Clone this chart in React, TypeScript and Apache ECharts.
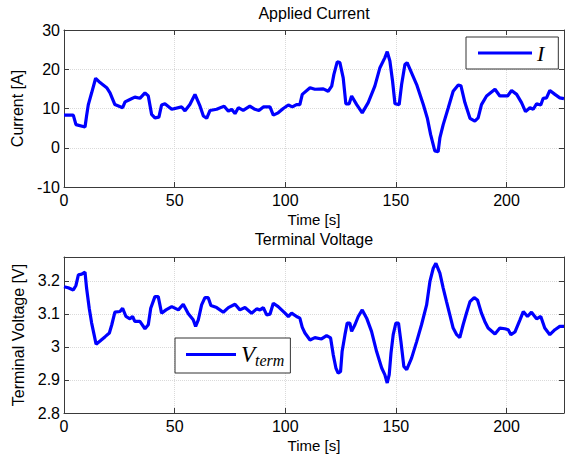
import React, { useEffect, useRef } from 'react';
import * as echarts from 'echarts';

// Applied current (time [s], current [A])
const timeI = [0, 4.2, 5.4, 9.5, 10.2, 11, 12.5, 14.3, 16.3, 19.3, 20.8, 23, 26.5, 27.6, 29.8, 32, 34.3, 36.6, 38.1, 39.6, 41.1, 42.9, 44.1, 45.6, 48.7, 53.2, 54.7, 56.9, 59.2, 61.5, 63, 64.5, 66, 69, 72.4, 74.3, 75.8, 77.3, 78.8, 81, 84, 86.3, 88.1, 90.1, 93.1, 94.6, 96.8, 99.1, 101.4, 103.2, 105.1, 106.6, 107.7, 111.2, 113.4, 117.2, 119.4, 121, 122, 123.5, 124.7, 126.2, 127.4, 128.9, 130, 132.3, 134.8, 137.5, 140.5, 142.8, 145, 146.1, 147.3, 148.5, 149.6, 151.5, 152.6, 154.1, 155.1, 157.1, 159.4, 162.4, 164.2, 165.7, 167.6, 169.1, 169.9, 171.4, 173.7, 175.9, 178.2, 179.4, 181.2, 183.5, 185.7, 187.2, 188.7, 191, 194.8, 197, 199.3, 200.5, 202.3, 204.6, 206.8, 208.6, 210.6, 212.1, 213.6, 215.5, 216.6, 218.1, 219.6, 221.9, 224.1, 226];
const currentA = [8.3, 8.3, 5.9, 5.3, 8.1, 11, 14, 17.7, 16.6, 15.3, 14, 11, 10.2, 11.7, 12.3, 12.9, 12.6, 14, 13.2, 8.5, 7.6, 7.8, 10.9, 11.2, 9.8, 10.4, 9.4, 11, 13.6, 10.6, 8.1, 7.5, 9.5, 9.8, 10.6, 9.3, 9.8, 8.7, 10.2, 9.5, 10.6, 9.8, 9.5, 10.4, 10.4, 8.3, 8.9, 10, 10.9, 10.4, 11, 11, 13.6, 15.3, 14.9, 15, 14.4, 15.7, 18.7, 21.9, 21.7, 17.8, 11.2, 11.2, 13.2, 11, 8.9, 11.5, 15.7, 20.4, 22.9, 24.5, 22.1, 17, 11.2, 11, 16.1, 21.2, 21.7, 19.1, 16.1, 11, 7.6, 3.4, -0.8, -1, 2.5, 5.9, 10.2, 14.4, 16, 15.8, 11.5, 7.5, 6.8, 7.6, 11, 13.2, 14.9, 13.2, 13.2, 13.2, 14.6, 13.6, 11.5, 9.2, 10.2, 9.8, 11.2, 10.9, 12.6, 12.7, 14.6, 13.6, 12.7, 12.5];

// Terminal voltage (time [s], voltage [V])
const timeV = [0, 1.9, 4.2, 5.4, 6.5, 8, 9.5, 10.2, 11.4, 12.5, 13.6, 14.5, 16.3, 18.6, 20.5, 21.6, 23, 25.3, 26.5, 28, 29.8, 31, 32, 34.3, 36.6, 38.1, 39.2, 41.1, 42.6, 44.1, 46.1, 48.7, 51.7, 53.9, 56.2, 58.4, 59.5, 60.7, 62.2, 63.7, 65.2, 66.4, 69, 72, 74.3, 77.3, 79.5, 81.8, 84.8, 87.1, 88.6, 90.1, 91.6, 93.1, 94.6, 96.8, 99.9, 101.4, 102.9, 105.1, 106.6, 107.7, 108.9, 111.2, 113.4, 116.4, 118.7, 120.5, 121.7, 122.9, 123.9, 125, 125.7, 127, 128, 129.2, 130, 131.5, 133, 134.8, 136.8, 139, 141.3, 143.6, 145, 146.1, 147, 147.8, 148.8, 150, 151.2, 152.3, 153.6, 154.9, 157.1, 159.4, 161.6, 163.9, 165.4, 166.9, 168.1, 169.9, 171.4, 172.9, 174.4, 175.9, 177.5, 178.9, 180.4, 181.9, 183.5, 185.4, 186.9, 188.7, 190.2, 191.7, 194.8, 197, 199.3, 200.8, 202, 203.8, 206.1, 207.6, 209.5, 211.3, 213.6, 215.5, 217.3, 219.6, 221.9, 224.1, 226];
const voltageV = [3.182, 3.179, 3.172, 3.186, 3.218, 3.22, 3.226, 3.178, 3.117, 3.072, 3.037, 3.008, 3.018, 3.031, 3.042, 3.067, 3.105, 3.107, 3.117, 3.092, 3.085, 3.092, 3.077, 3.077, 3.055, 3.067, 3.117, 3.152, 3.152, 3.102, 3.112, 3.122, 3.112, 3.129, 3.1, 3.082, 3.062, 3.082, 3.127, 3.149, 3.149, 3.125, 3.119, 3.105, 3.119, 3.129, 3.112, 3.119, 3.102, 3.115, 3.112, 3.119, 3.097, 3.099, 3.132, 3.122, 3.102, 3.092, 3.102, 3.092, 3.087, 3.059, 3.042, 3.021, 3.028, 3.024, 3.034, 3.027, 2.976, 2.936, 2.921, 2.925, 2.986, 3.037, 3.072, 3.072, 3.047, 3.067, 3.092, 3.112, 3.087, 3.047, 2.986, 2.936, 2.916, 2.891, 2.916, 2.981, 3.037, 3.072, 3.072, 3.016, 2.941, 2.931, 2.966, 3.016, 3.067, 3.127, 3.198, 3.238, 3.253, 3.223, 3.178, 3.137, 3.097, 3.057, 3.037, 3.028, 3.067, 3.102, 3.137, 3.149, 3.142, 3.102, 3.077, 3.057, 3.039, 3.057, 3.055, 3.052, 3.037, 3.045, 3.082, 3.107, 3.092, 3.105, 3.085, 3.092, 3.057, 3.037, 3.052, 3.062, 3.062];

// Axis ranges / ticks
const timeRange = [0, 226];
const timeStep = 50;
const currentRange = [-10, 30];
const currentStep = 10;
const voltageRange = [2.8, 3.272];
const voltageStep = 0.1;

const titles = ['Applied Current', 'Terminal Voltage'];
const xName = 'Time [s]';
const yNames = ['Current [A]', 'Terminal Voltage [V]'];

export default function App() {
  const ref = useRef<HTMLDivElement>(null);

  useEffect(() => {
    if (!ref.current) return;
    const chart = echarts.init(ref.current, null, { renderer: 'svg' });
    const frame = '#3a3a3a';
    const sans = '"Liberation Sans", Arial, Helvetica, sans-serif';
    const serif = '"Liberation Serif", "DejaVu Serif", serif';
    const tickFont = { fontFamily: sans, fontSize: 16, color: '#000' };
    const gridLine = { show: true, lineStyle: { color: '#dadada', type: 'dotted' as const, width: 1 } };

    const zip = (xs: number[], ys: number[]) => xs.map((x, i) => [x, ys[i]]);

    const xAxes: any[] = [];
    const yAxes: any[] = [];
    const yRanges = [currentRange, voltageRange];
    const ySteps = [currentStep, voltageStep];
    [0, 1].forEach((g) => {
      const common = {
        type: 'value',
        gridIndex: g,
        min: timeRange[0],
        max: timeRange[1],
        interval: timeStep,
        axisLine: { show: true, onZero: false, lineStyle: { color: frame, width: 1 } },
        axisTick: { show: true, inside: true, length: 5, lineStyle: { color: frame } },
      };
      xAxes.push({
        ...common,
        position: 'bottom',
        axisLabel: { ...tickFont, margin: 5, showMaxLabel: false },
        splitLine: gridLine,
        name: xName,
        nameLocation: 'middle',
        nameGap: 25,
        nameTextStyle: { fontFamily: sans, fontSize: 15, color: '#000' },
      });
      xAxes.push({
        ...common,
        position: 'top',
        axisLabel: { show: false },
        splitLine: { show: false },
      });
      const yCommon = {
        type: 'value',
        gridIndex: g,
        min: yRanges[g][0],
        max: yRanges[g][1],
        interval: ySteps[g],
        axisLine: { show: true, onZero: false, lineStyle: { color: frame, width: 1 } },
        axisTick: { show: true, inside: true, length: 5, lineStyle: { color: frame } },
      };
      yAxes.push({
        ...yCommon,
        position: 'left',
        axisLabel: { ...tickFont, margin: 4, showMaxLabel: g === 0 },
        splitLine: gridLine,
        name: yNames[g],
        nameLocation: 'middle',
        nameGap: 32,
        nameTextStyle: { fontFamily: sans, fontSize: 16, color: '#000' },
      });
      yAxes.push({
        ...yCommon,
        position: 'right',
        axisLabel: { show: false },
        splitLine: { show: false },
      });
    });

    const lineStyle = { color: '#0000ff', width: 3.2 };

    chart.setOption({
      animation: false,
      backgroundColor: '#ffffff',
      title: [
        { text: titles[0], left: 314, top: 5, textAlign: 'center', padding: 0,
          textStyle: { fontFamily: sans, fontSize: 16, fontWeight: 'normal', color: '#000' } },
        { text: titles[1], left: 314, top: 231, textAlign: 'center', padding: 0,
          textStyle: { fontFamily: sans, fontSize: 16, fontWeight: 'normal', color: '#000' } },
      ],
      grid: [
        { left: 64, top: 30, width: 500, height: 157 },
        { left: 64, top: 257, width: 500, height: 156 },
      ],
      xAxis: xAxes,
      yAxis: yAxes,
      legend: [
        {
          data: ['I'],
          left: 466,
          top: 37,
          icon: 'rect',
          itemWidth: 54,
          itemHeight: 3,
          padding: [5, 14, 5, 12],
          borderColor: '#333',
          borderWidth: 1,
          backgroundColor: '#fff',
          selectedMode: false,
          textStyle: { fontFamily: serif, fontStyle: 'italic', fontSize: 22, lineHeight: 22, color: '#000' },
        },
        {
          data: ['Vterm'],
          left: 175,
          top: 338,
          icon: 'rect',
          itemWidth: 50,
          itemHeight: 3,
          padding: [5, 6, 5, 11],
          borderColor: '#333',
          borderWidth: 1,
          backgroundColor: '#fff',
          selectedMode: false,
          formatter: () => '{v|V}{s|term}',
          textStyle: {
            color: '#000',
            rich: {
              v: { fontFamily: serif, fontStyle: 'italic', fontSize: 23, lineHeight: 27, color: '#000' },
              s: { fontFamily: serif, fontStyle: 'italic', fontSize: 16, lineHeight: 27, verticalAlign: 'bottom', color: '#000' },
            },
          },
        },
      ],
      series: [
        {
          name: 'I',
          type: 'line',
          xAxisIndex: 0,
          yAxisIndex: 0,
          data: zip(timeI, currentA),
          symbol: 'none',
          showSymbol: false,
          lineStyle,
          itemStyle: { color: '#0000ff' },
        },
        {
          name: 'Vterm',
          type: 'line',
          xAxisIndex: 2,
          yAxisIndex: 2,
          data: zip(timeV, voltageV),
          symbol: 'none',
          showSymbol: false,
          lineStyle,
          itemStyle: { color: '#0000ff' },
        },
      ],
    });

    return () => chart.dispose();
  }, []);

  return (
    <div
      ref={ref}
      style={{ position: 'fixed', left: 0, top: 0, width: 567, height: 459, background: '#fff' }}
    />
  );
}
